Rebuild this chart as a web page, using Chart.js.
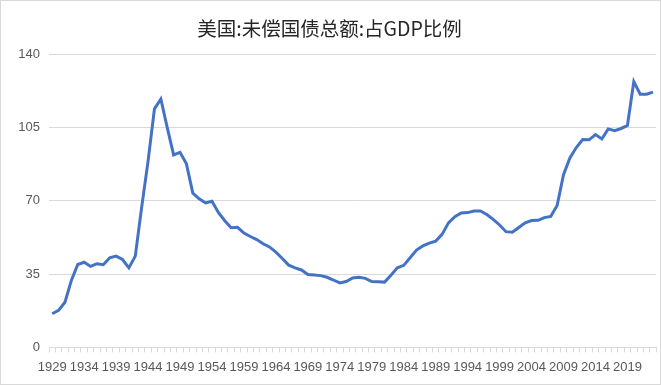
<!DOCTYPE html>
<html>
<head>
<meta charset="utf-8">
<script src="https://cdn.jsdelivr.net/npm/chart.js@4/dist/chart.umd.min.js"></script>
<style>
  html, body { margin: 0; padding: 0; background: #fff; }
  #wrap {
    position: relative;
    width: 661px;
    height: 385px;
    box-sizing: border-box;
    border: 1px solid #d9d9d9;
  }
  #chart { position: absolute; left: 0; top: 0; }
</style>
</head>
<body>
<div id="wrap"><canvas id="chart" width="659" height="383"></canvas></div>
<script>
/* ===== data ===== */
const chartTitle = "美国:未偿国债总额:占GDP比例";

const years = [];
for (let y = 1929; y <= 2023; y++) years.push(String(y));

// 占GDP比例 (%), 1929-2023
const debtRatio = [
  16.1, 17.7, 21.6, 32.0, 39.6, 40.7, 38.7, 40.0, 39.5, 42.8,
  43.6, 42.0, 38.0, 43.6, 67.0, 89.0, 114.0, 118.7, 105.0, 92.0,
  93.2, 87.7, 73.7, 71.0, 69.0, 69.8, 64.5, 60.5, 57.2, 57.4,
  54.6, 53.0, 51.5, 49.5, 48.0, 45.5, 42.5, 39.3, 38.0, 37.0,
  34.8, 34.6, 34.3, 33.5, 32.2, 30.8, 31.5, 33.2, 33.5, 33.0,
  31.5, 31.4, 31.2, 34.5, 38.0, 39.2, 42.8, 46.5, 48.5, 49.8,
  50.8, 54.0, 59.5, 62.5, 64.2, 64.4, 65.2, 65.2, 63.5, 61.2,
  58.5, 55.3, 55.0, 57.3, 59.5, 60.6, 60.7, 62.0, 62.6, 67.8,
  82.5, 90.5, 95.5, 99.3, 99.2, 101.7, 99.6, 104.4, 103.6, 104.6,
  106.0, 127.0, 121.0, 121.0, 122.0
];

const yTicks = [0, 35, 70, 105, 140];
const labelEvery = 5;

/* ===== chart ===== */
const gridColor = "#d9d9d9";
const textColor = "#595959";

new Chart(document.getElementById("chart"), {
  type: "line",
  data: {
    labels: years,
    datasets: [{
      label: chartTitle,
      data: debtRatio,
      borderColor: "#4472C4",
      borderWidth: 3,
      pointRadius: 0,
      tension: 0,
      fill: false
    }]
  },
  options: {
    responsive: false,
    animation: false,
    layout: { padding: { left: 0, right: 2, top: 0, bottom: 2 } },
    plugins: {
      legend: { display: false },
      tooltip: { enabled: false },
      title: {
        display: true,
        text: chartTitle,
        color: "#262626",
        font: { family: "'Noto Sans CJK SC', sans-serif", size: 19.5, weight: "normal" },
        padding: { top: 16, bottom: 14 }
      }
    },
    scales: {
      x: {
        type: "category",
        offset: true,
        grid: {
          display: true,
          offset: true,
          drawOnChartArea: false,
          drawTicks: true,
          tickLength: 5,
          color: gridColor
        },
        border: { display: true, color: gridColor },
        ticks: {
          autoSkip: false,
          maxRotation: 0,
          minRotation: 0,
          padding: 7,
          color: textColor,
          font: { family: "'Liberation Sans', sans-serif", size: 13 },
          callback: function (val, i) {
            return i % labelEvery === 0 ? this.getLabelForValue(val) : "";
          }
        }
      },
      y: {
        min: yTicks[0],
        max: yTicks[yTicks.length - 1],
        afterBuildTicks: s => { s.ticks = yTicks.map(v => ({ value: v })); },
        afterFit: s => { s.width = 48; },
        grid: { color: gridColor, drawTicks: false },
        border: { display: false },
        ticks: {
          padding: 9,
          color: textColor,
          font: { family: "'Liberation Sans', sans-serif", size: 13 }
        }
      }
    }
  }
});
</script>
</body>
</html>
